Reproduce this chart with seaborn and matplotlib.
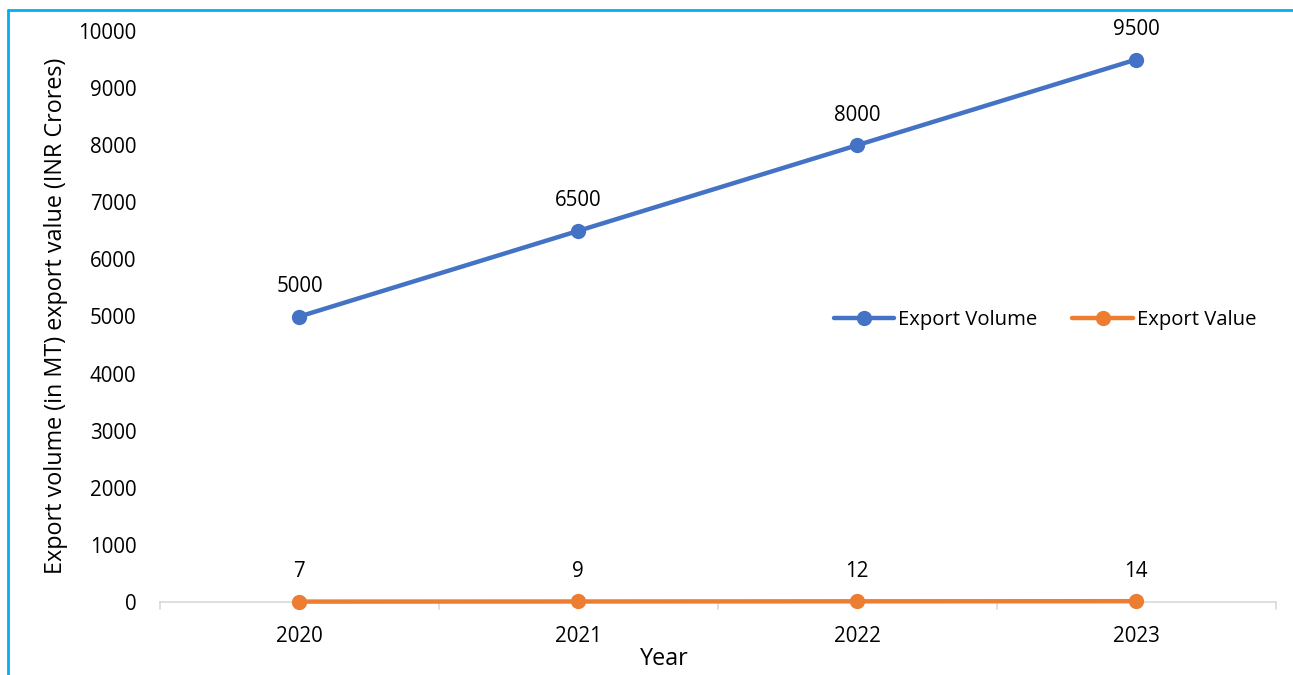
import matplotlib
matplotlib.use("Agg")
import matplotlib.pyplot as plt
import seaborn as sns
import pandas as pd
from matplotlib.lines import Line2D

years = ["2020", "2021", "2022", "2023"]
export_volume = [5000, 6500, 8000, 9500]
export_value = [7, 9, 12, 14]
series_names = ["Export Volume", "Export Value"]
colors = ["#4472C4", "#ED7D31"]

sns.set_style("white")
plt.rcParams['font.family'] = ['Open Sans', 'DejaVu Sans']
plt.rcParams['text.color'] = '#000000'
plt.rcParams['axes.labelcolor'] = '#000000'

df = pd.DataFrame({
    "Year": years * 2,
    "val": export_volume + export_value,
    "series": [series_names[0]] * 4 + [series_names[1]] * 4,
})

W, H = 1293, 675
fig = plt.figure(figsize=(W / 100, H / 100), dpi=100)
ax = fig.add_axes([160 / W, 1 - 602 / H, (1275.5 - 160) / W, (602 - 31) / H])

sns.lineplot(data=df, x="Year", y="val", hue="series", palette=colors,
             marker="o", markersize=11, linewidth=3.2, markeredgewidth=0,
             ax=ax, legend=False, sort=False)
for ln in ax.lines:
    ln.set_clip_on(False)

ax.set_xlim(-0.5, 3.5)
ax.set_ylim(0, 10000)
ax.set_yticks(range(0, 10001, 1000))
ax.set_xticks(range(len(years)))
ax.set_xticklabels(years)
ax.tick_params(axis="both", length=0, labelsize=14.8, labelcolor="#000000")
ax.tick_params(axis="y", pad=17)
ax.tick_params(axis="x", pad=17)
for s in ["top", "right", "left"]:
    ax.spines[s].set_visible(False)
ax.spines["bottom"].set_color("#D9D9D9")
ax.spines["bottom"].set_linewidth(1.2)
ax.spines["bottom"].set_zorder(0)
# category boundary ticks
for b in [-0.5, 0.5, 1.5, 2.5, 3.5]:
    ax.plot([b, b], [0, -0.012], transform=ax.get_xaxis_transform(),
            color="#D9D9D9", lw=1.2, clip_on=False, zorder=0)

for i, v in enumerate(export_volume):
    ax.annotate(str(v), (i, v), xytext=(0, 14), textcoords="offset points",
                ha="center", va="bottom", fontsize=14.8)
for i, v in enumerate(export_value):
    ax.annotate(str(v), (i, v), xytext=(0, 14), textcoords="offset points",
                ha="center", va="bottom", fontsize=14.8)

ax.set_xlabel("Year", fontsize=16.8)
ax.set_ylabel("Export volume (in MT) export value (INR Crores)", fontsize=16.8)
ax.xaxis.set_label_coords((664 - 160) / (1275.5 - 160), -(647 - 602) / (602 - 31))
ax.yaxis.set_label_coords(-(160 - 68) / (1275.5 - 160), (602 - 316) / (602 - 31))

handles = [Line2D([0], [0], color=c, lw=3.2, marker="o", markersize=11, markeredgewidth=0)
           for c in colors]
fig.legend(handles, series_names, loc="center", bbox_to_anchor=(1045 / W, 1 - 320 / H),
           ncol=2, frameon=False, fontsize=14.6, handlelength=3, columnspacing=1.7,
           handletextpad=0.2)

border = "#00B0F0"
fig.add_artist(Line2D([8 / W, 8 / W], [0, 1 - 10 / H], color=border, lw=2, transform=fig.transFigure))
fig.add_artist(Line2D([8 / W, 1], [1 - 10 / H, 1 - 10 / H], color=border, lw=2, transform=fig.transFigure))

fig.savefig("out.png", dpi=100, facecolor="white")
